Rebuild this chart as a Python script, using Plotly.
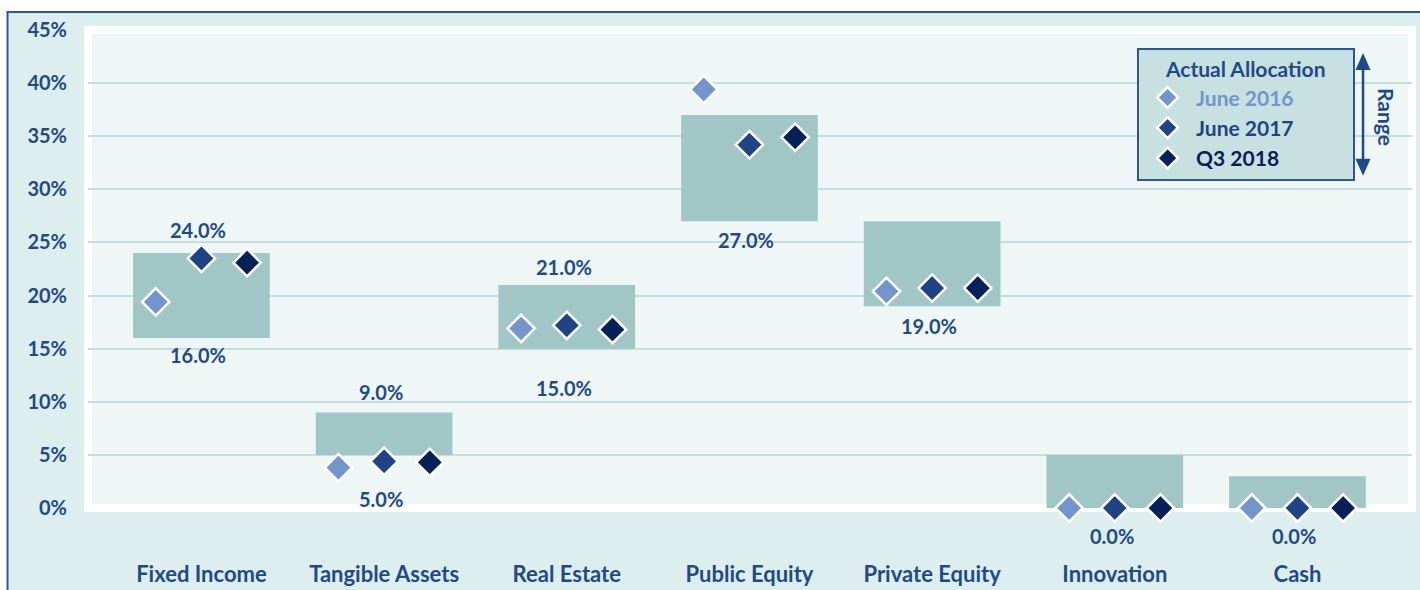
import plotly.graph_objects as go

# Asset classes and policy ranges (% of portfolio)
categories = ["Fixed Income", "Tangible Assets", "Real Estate", "Public Equity",
              "Private Equity", "Innovation", "Cash"]
range_low = [16.0, 5.0, 15.0, 27.0, 19.0, 0.0, 0.0]
range_high = [24.0, 9.0, 21.0, 37.0, 27.0, 5.0, 3.0]

# Actual allocation at three points in time (%)
june_2016 = [19.4, 3.8, 16.9, 39.4, 20.4, 0.0, 0.0]
june_2017 = [23.5, 4.4, 17.2, 34.2, 20.7, 0.0, 0.0]
q3_2018 = [23.1, 4.3, 16.8, 34.9, 20.7, 0.0, 0.0]

# Which range bounds get a printed label
show_high_label = [True, True, True, False, False, False, False]
show_low_label = [True, True, True, True, True, True, True]

y_ticks = [0, 5, 10, 15, 20, 25, 30, 35, 40, 45]

# ---- styling ----
TEXT = "#1F4A8A"
FONT = "Lato"
BAR = "#A0C6C5"
C16, C17, C18 = "#7395CB", "#1F4485", "#06215A"
high_label_shift = [23, 20, 18, 0, 0, 0, 0]
low_label_shift = [-17, -44, -39, -19, -20, -28, -28]
marker_offset = 0.25

pos = list(range(len(categories)))

fig = go.Figure()

fig.add_trace(go.Bar(
    x=pos,
    y=[h - l for h, l in zip(range_high, range_low)],
    base=range_low,
    width=0.748,
    marker=dict(color=BAR, line=dict(width=0)),
    showlegend=False,
    hoverinfo="skip",
))

series = [
    ("June 2016", june_2016, C16, -marker_offset),
    ("June 2017", june_2017, C17, 0.0),
    ("Q3 2018", q3_2018, C18, marker_offset),
]
for name, vals, color, off in series:
    fig.add_trace(go.Scatter(
        x=[p + off for p in pos],
        y=vals,
        mode="markers",
        name=f"<span style='color:{color}'>{name}</span>",
        marker=dict(symbol="diamond", size=21, color=color,
                    line=dict(color="white", width=2.5)),
        cliponaxis=False,
    ))

label_font = dict(family=FONT, size=20, color=TEXT, weight="bold")
annotations = []
for i, p in enumerate(pos):
    if show_high_label[i]:
        annotations.append(dict(
            x=p, y=range_high[i], xref="x", yref="y",
            text=f"{range_high[i]:.1f}%", showarrow=False,
            yshift=high_label_shift[i], xshift=-3, font=label_font,
        ))
    if show_low_label[i]:
        annotations.append(dict(
            x=p, y=range_low[i], xref="x", yref="y",
            text=f"{range_low[i]:.1f}%", showarrow=False,
            yshift=low_label_shift[i], xshift=-3, font=label_font,
        ))

W, H = 1324.5, 478.5  # plot area in px
def px(x):
    return (x - 87.5) / W
def py(y):
    return (508.5 - y) / H

# "Range" caption beside the double-headed arrow
annotations.append(dict(
    x=px(1386), y=py(117), xref="paper", yref="paper",
    xanchor="center", yanchor="middle",
    text="Range", textangle=90, showarrow=False,
    font=dict(family=FONT, size=21, color=TEXT, weight="bold"),
))

shapes = [
    # outer panel with blue border
    dict(type="rect", xref="paper", yref="paper",
         x0=px(7), x1=px(1440), y0=py(610), y1=py(12),
         fillcolor="#DCEEED", line=dict(color="#2F5597", width=2), layer="below"),
    # plot area fill
    dict(type="rect", xref="paper", yref="paper", x0=0, x1=1, y0=0, y1=1,
         fillcolor="#EEF7F6", line=dict(width=0), layer="below"),
    # white frame round the plot area
    dict(type="rect", xref="paper", yref="paper", x0=0, x1=1, y0=0, y1=1,
         fillcolor="rgba(0,0,0,0)", line=dict(color="white", width=8), layer="between"),
    # range arrow shaft
    dict(type="line", xref="paper", yref="paper",
         x0=px(1363), x1=px(1363), y0=py(60), y1=py(168),
         line=dict(color=TEXT, width=2.5)),
    # arrow heads
    dict(type="path", xref="paper", yref="paper", xsizemode="pixel", ysizemode="pixel",
         xanchor=px(1363), yanchor=py(53), path="M-7.5,-17 L7.5,-17 L0,0 Z",
         fillcolor=TEXT, line=dict(width=0)),
    dict(type="path", xref="paper", yref="paper", xsizemode="pixel", ysizemode="pixel",
         xanchor=px(1363), yanchor=py(176), path="M-7.5,17 L7.5,17 L0,0 Z",
         fillcolor=TEXT, line=dict(width=0)),
]

pad = "\u00a0" * 5
fig.update_layout(
    width=1420, height=590,
    margin=dict(l=87.5, r=8, t=30, b=81.5, autoexpand=False),
    paper_bgcolor="white",
    plot_bgcolor="rgba(0,0,0,0)",
    barmode="overlay",
    shapes=shapes,
    annotations=annotations,
    legend=dict(
        title=dict(text=f"{pad}Actual Allocation{pad}", side="top center",
                   font=dict(family=FONT, size=21, color=TEXT, weight="bold")),
        font=dict(family=FONT, size=21, color=TEXT, weight="bold"),
        bgcolor="#C6E1DF", bordercolor="#2F5597", borderwidth=2,
        x=px(1137), y=py(48), xanchor="left", yanchor="top",
        itemwidth=47, itemclick=False,
    ),
    xaxis=dict(
        range=[-0.621, 6.627],
        tickvals=pos, ticktext=categories,
        tickfont=dict(family=FONT, size=22, color=TEXT, weight="bold"),
        ticklabelstandoff=51, automargin=False,
        showgrid=False, zeroline=False, showline=False, ticks="",
        fixedrange=True,
    ),
    yaxis=dict(
        range=[0, 45], tickvals=y_ticks,
        ticktext=[f"{t}%" for t in y_ticks],
        tickfont=dict(family=FONT, size=20, color=TEXT, weight="bold"),
        ticklabelstandoff=20, automargin=False,
        showgrid=True, gridcolor="#C3DFDD", gridwidth=2,
        zeroline=False, showline=False, ticks="",
        fixedrange=True,
    ),
)

fig.write_html("out.html")
